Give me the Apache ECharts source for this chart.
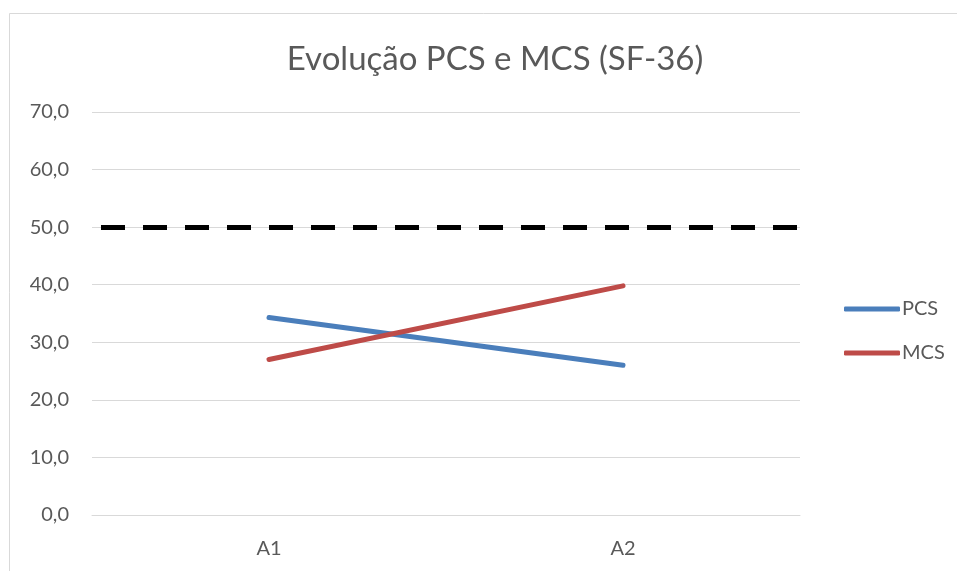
<!DOCTYPE html>
<html>
<head>
<meta charset="utf-8">
<script src="https://cdn.jsdelivr.net/npm/echarts@6/dist/echarts.min.js"></script>
<style>
html,body{margin:0;padding:0;background:#fff;}
#chart{width:957px;height:571px;}
</style>
</head>
<body>
<div id="chart"></div>
<script>
var titleText = 'Evolução PCS e MCS (SF-36)';
var categories = ['A1', 'A2'];
var pcsValues = [34.3, 26.0];
var mcsValues = [27.0, 39.8];
var referenceValue = 50.0;
var yMin = 0, yMax = 70, yStep = 10;

var FONT = 'Lato';
var chart = echarts.init(document.getElementById('chart'), null, {renderer: 'canvas'});
var option = {
  animation: false,
  backgroundColor: '#ffffff',
  graphic: [{
    type: 'rect',
    shape: {x: 9.5, y: 13.5, width: 1000, height: 600},
    style: {fill: 'none', stroke: '#d9d9d9', lineWidth: 1},
    silent: true, z: -1
  }],
  title: {
    text: titleText,
    left: 490, top: 38,
    textAlign: 'center',
    textStyle: {fontFamily: FONT, fontSize: 33, fontWeight: 'normal', color: '#595959'}
  },
  legend: {
    orient: 'vertical',
    left: 839, top: 294,
    itemWidth: 56, itemHeight: 5, itemGap: 24,
    icon: 'roundRect',
    textStyle: {fontFamily: FONT, fontSize: 20, color: '#595959', padding: [0, 0, 0, -3]},
    data: ['PCS', 'MCS']
  },
  grid: {left: 92, right: 157, top: 112, bottom: 56, containLabel: false},
  xAxis: {
    type: 'category',
    data: categories,
    boundaryGap: true,
    axisLine: {show: true, lineStyle: {color: '#d9d9d9', width: 1}},
    axisTick: {show: false},
    axisLabel: {margin: 24, fontFamily: FONT, fontSize: 20, color: '#595959'}
  },
  yAxis: {
    type: 'value',
    min: yMin, max: yMax, interval: yStep,
    axisLine: {show: false},
    axisTick: {show: false},
    splitLine: {lineStyle: {color: '#d9d9d9', width: 1}},
    axisLabel: {
      margin: 23, fontFamily: FONT, fontSize: 20, color: '#595959',
      formatter: function (v) { return v.toFixed(1).replace('.', ','); }
    }
  },
  series: [
    {
      name: 'PCS', type: 'line', data: pcsValues,
      symbol: 'none', showSymbol: false,
      lineStyle: {color: '#4a7ebb', width: 5, cap: 'round'},
      itemStyle: {color: '#4a7ebb'},
      emphasis: {disabled: true},
      markLine: {
        silent: true, symbol: 'none',
        label: {show: false},
        lineStyle: {color: '#000000', width: 5, type: [24, 18], dashOffset: 33, cap: 'butt'},
        emphasis: {disabled: true},
        data: [{yAxis: referenceValue}]
      }
    },
    {
      name: 'MCS', type: 'line', data: mcsValues,
      symbol: 'none', showSymbol: false,
      lineStyle: {color: '#be4b48', width: 5, cap: 'round'},
      itemStyle: {color: '#be4b48'},
      emphasis: {disabled: true}
    }
  ]
};
chart.setOption(option);
</script>
</body>
</html>
